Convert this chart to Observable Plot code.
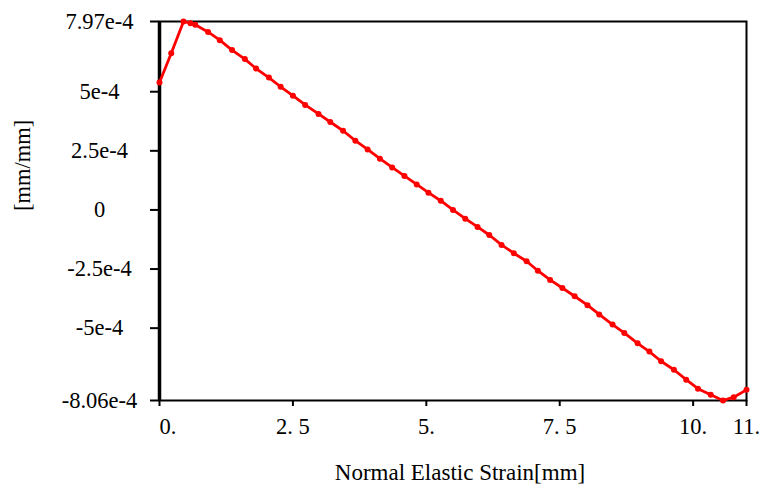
<!DOCTYPE html>
<html>
<head>
<meta charset="utf-8">
<script src="https://cdn.jsdelivr.net/npm/d3@7"></script>
<script src="https://cdn.jsdelivr.net/npm/@observablehq/plot@0.6"></script>
<style>
  html, body { margin: 0; padding: 0; background: #fff; }
  #chart svg text { font-family: "Liberation Serif", "Times New Roman", serif; fill: #000; }
</style>
</head>
<body>
<div id="chart"></div>
<script>
const xs = [0, 0.22, 0.45, 0.58, 0.67, 0.91, 1.13, 1.36, 1.60, 1.81, 2.05, 2.27, 2.50, 2.73, 2.98, 3.20, 3.44, 3.67, 3.90, 4.13, 4.36, 4.59, 4.82, 5.04, 5.27, 5.50, 5.73, 5.96, 6.18, 6.41, 6.64, 6.88, 7.09, 7.32, 7.55, 7.78, 8.02, 8.24, 8.49, 8.71, 8.96, 9.18, 9.40, 9.64, 9.87, 10.09, 10.33, 10.56, 10.76, 11.0];
const ys = [5.39e-4, 6.63e-4, 7.97e-4, 7.90e-4, 7.83e-4, 7.53e-4, 7.18e-4, 6.76e-4, 6.38e-4, 5.98e-4, 5.60e-4, 5.21e-4, 4.83e-4, 4.44e-4, 4.06e-4, 3.72e-4, 3.35e-4, 2.93e-4, 2.56e-4, 2.17e-4, 1.80e-4, 1.44e-4, 1.08e-4, 7.3e-5, 3.9e-5, 0, -3.7e-5, -7.2e-5, -1.06e-4, -1.48e-4, -1.83e-4, -2.17e-4, -2.57e-4, -2.96e-4, -3.30e-4, -3.65e-4, -4.03e-4, -4.42e-4, -4.85e-4, -5.20e-4, -5.64e-4, -5.99e-4, -6.40e-4, -6.76e-4, -7.18e-4, -7.56e-4, -7.82e-4, -8.06e-4, -7.92e-4, -7.61e-4];

const yTicks = [7.97e-4, 5e-4, 2.5e-4, 0, -2.5e-4, -5e-4, -8.06e-4];
const yTickLabels = ["7.97e-4", "5e-4", "2.5e-4", "0", "-2.5e-4", "-5e-4", "-8.06e-4"];
const xTicks = [0, 2.5, 5, 7.5, 10, 11];
const xTickLabels = ["0.", "2. 5", "5.", "7. 5", "10.", "11."];
const xTitle = "Normal Elastic Strain[mm]";
const yTitle = "[mm/mm]";

const data = xs.map((x, i) => ({x, y: ys[i]}));
const yFmt = v => yTickLabels[yTicks.indexOf(v)];
const xFmt = v => xTickLabels[xTicks.indexOf(v)];

const chart = Plot.plot({
  width: 765,
  height: 492,
  marginLeft: 159,
  marginRight: 19,
  marginTop: 21,
  marginBottom: 92,
  style: {fontFamily: "Liberation Serif, serif", fontSize: "22px", color: "#000", background: "#fff"},
  x: {domain: [0, 11]},
  y: {domain: [-8.06e-4, 7.97e-4]},
  marks: [
    Plot.frame({stroke: "#000", strokeWidth: 2}),
    Plot.ruleX([0], {stroke: "#000", strokeWidth: 3.5}),
    Plot.axisY({ticks: yTicks, tickFormat: yFmt, tickSize: 9, tickPadding: 51, textAnchor: "middle", strokeWidth: 2, fontSize: 22.5, label: null}),
    Plot.axisX({ticks: xTicks.slice(1), tickFormat: xFmt, tickSize: 6, tickPadding: 12, strokeWidth: 2, fontSize: 22.5, label: null}),
    Plot.axisX({ticks: [0], tickFormat: xFmt, tickSize: 6, tickPadding: 12, textAnchor: "start", strokeWidth: 2, fontSize: 22.5, label: null}),
    Plot.line(data, {x: "x", y: "y", stroke: "#ff0000", strokeWidth: 2.8}),
    Plot.dot(data, {x: "x", y: "y", r: 3, fill: "#ff0000", stroke: "none"}),
    Plot.text([xTitle], {frameAnchor: "bottom", dy: 79, dx: 7, fontSize: 23, fill: "#000"}),
    Plot.text([yTitle], {frameAnchor: "left", rotate: -90, dx: -137, fontSize: 22.5, fill: "#000"})
  ]
});
document.getElementById("chart").appendChild(chart);
</script>
</body>
</html>
